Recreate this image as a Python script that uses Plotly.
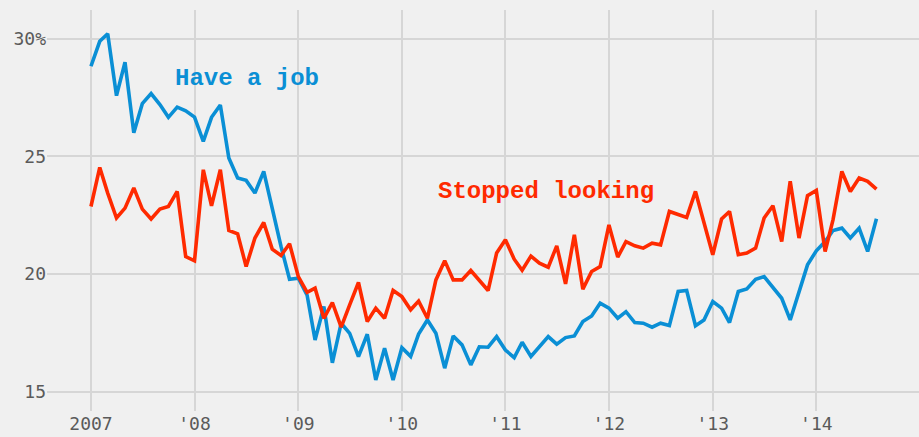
import pandas as pd
import plotly.graph_objects as go

months = pd.date_range("2007-01-01", periods=92, freq="MS")

have_a_job = [
    28.83, 29.89, 30.21, 27.58, 29.0, 26.0, 27.24, 27.67, 27.2, 26.66, 27.09, 26.94,
    26.67, 25.64, 26.66, 27.18, 24.93, 24.08, 23.98, 23.44, 24.36, 22.73, 21.17, 19.78,
    19.82, 19.1, 17.2, 18.62, 16.23, 17.91, 17.48, 16.49, 17.44, 15.5, 16.85, 15.5,
    16.87, 16.5, 17.45, 18.05, 17.48, 16.0, 17.37, 16.99, 16.14, 16.91, 16.89, 17.34,
    16.77, 16.45, 17.1, 16.5, 16.91, 17.34, 17.02, 17.3, 17.37, 17.98, 18.22, 18.76,
    18.55, 18.12, 18.4, 17.94, 17.91, 17.74, 17.91, 17.81, 19.26, 19.3, 17.8, 18.05,
    18.83, 18.55, 17.94, 19.26, 19.37, 19.78, 19.89, 19.4, 18.97, 18.05, 19.26, 20.39,
    20.99, 21.38, 21.85, 21.95, 21.53, 21.95, 20.96, 22.35,
]

stopped_looking = [
    22.87, 24.53, 23.44, 22.38, 22.8, 23.66, 22.76, 22.34, 22.76, 22.87, 23.51, 20.74,
    20.56, 24.43, 22.9, 24.43, 21.85, 21.71, 20.32, 21.53, 22.19, 21.06, 20.79, 21.29,
    19.89, 19.22, 19.4, 18.12, 18.79, 17.74, 18.69, 19.64, 17.98, 18.55, 18.12, 19.3,
    19.04, 18.48, 18.85, 18.12, 19.75, 20.57, 19.75, 19.75, 20.15, 19.72, 19.3, 20.89,
    21.46, 20.63, 20.16, 20.76, 20.46, 20.29, 21.2, 19.58, 21.67, 19.36, 20.11, 20.32,
    22.09, 20.72, 21.38, 21.2, 21.1, 21.31, 21.24, 22.66, 22.52, 22.4, 23.51, 22.17,
    20.82, 22.34, 22.66, 20.82, 20.89, 21.1, 22.38, 22.9, 21.38, 23.94, 21.53, 23.33,
    23.55, 20.96, 22.31, 24.36, 23.51, 24.08, 23.94, 23.61,
]

x_tick_vals = [f"{y}-01-01" for y in range(2007, 2016)]
x_tick_text = ["2007", "'08", "'09", "'10", "'11", "'12", "'13", "'14", ""]
y_tick_vals = [15, 20, 25, 30]
y_tick_text = ["15", "20", "25", "30%"]

BLUE = "#0a8fd5"
RED = "#ff2a00"
BG = "#f0f0f0"
GRID = "#d6d6d6"
TICK_FONT = dict(family="DejaVu Sans Mono, Liberation Mono, monospace", size=18, color="#5a5a5a")
LABEL_FONT = "Liberation Mono, DejaVu Sans Mono, Courier New, monospace"

fig = go.Figure()
fig.add_trace(go.Scatter(x=months, y=have_a_job, mode="lines",
                         line=dict(color=BLUE, width=3.6), name="Have a job"))
fig.add_trace(go.Scatter(x=months, y=stopped_looking, mode="lines",
                         line=dict(color=RED, width=3.6), name="Stopped looking"))

fig.add_annotation(x="2008-07-03", y=28.29, text="<b>Have a job</b>", showarrow=False,
                   font=dict(family=LABEL_FONT, size=24, color=BLUE))
fig.add_annotation(x="2011-05-25", y=23.49, text="<b>Stopped looking</b>", showarrow=False,
                   font=dict(family=LABEL_FONT, size=24, color=RED))

fig.update_layout(
    width=919, height=437,
    margin=dict(l=47, r=0, t=10, b=26, autoexpand=False),
    paper_bgcolor=BG, plot_bgcolor=BG,
    showlegend=False,
)
fig.update_xaxes(
    type="date", range=["2006-07-30", "2014-12-29"], automargin=False,
    tickmode="array", tickvals=x_tick_vals, ticktext=x_tick_text,
    showgrid=True, gridcolor=GRID, gridwidth=1.5,
    zeroline=False, showline=False, ticks="", tickfont=TICK_FONT,
)
fig.update_yaxes(
    range=[14.18, 31.22], automargin=False,
    tickmode="array", tickvals=y_tick_vals, ticktext=y_tick_text,
    showgrid=True, gridcolor=GRID, gridwidth=1.5,
    zeroline=False, showline=False, ticks="", tickfont=TICK_FONT,
)

fig.write_html(
    "out.html",
    config={"displayModeBar": False},
    post_script="document.body.style.margin='0';document.body.style.background='#f0f0f0';",
)
